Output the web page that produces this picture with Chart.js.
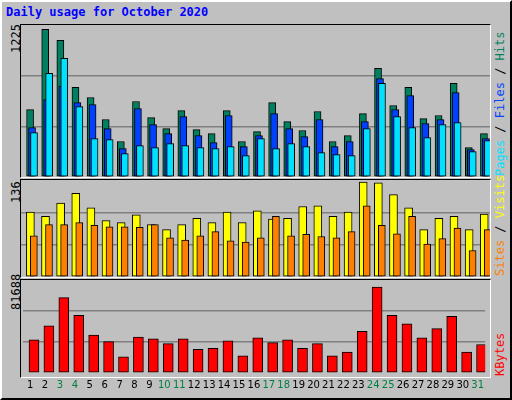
<!DOCTYPE html>
<html>
<head>
<meta charset="utf-8">
<script src="https://cdn.jsdelivr.net/npm/chart.js@4"></script>
<style>
  body { margin: 0; background: #fff; }
  #frame { position: absolute; left: 0; top: 0; width: 508px; height: 396px; background: #c0c0c0;
    border-top: 2px solid #fff; border-left: 2px solid #fff; border-right: 2px solid #000; border-bottom: 2px solid #000; }
  .title { position: absolute; left: 6px; top: 5px; font: bold 12px "DejaVu Sans Mono", monospace; color: #0000ff; }
  .panel { position: absolute; left: 20px; width: 469px; border: 1px solid #000; border-right-color: #fff; border-bottom-color: #fff; }
  .rot { position: absolute; transform: rotate(-90deg); transform-origin: left top; white-space: nowrap;
    font: 12px "DejaVu Sans Mono", monospace; }
  canvas { position: absolute; }
</style>
</head>
<body>
<div id="frame"></div>
<div class="title">Daily usage for October 2020</div>
<div class="panel" style="top:24px;height:152px"></div>
<div class="panel" style="top:179px;height:97px"></div>
<div class="panel" style="top:279px;height:97px"></div>
<div class="rot" style="left:9px;top:53px">1225</div>
<div class="rot" style="left:9px;top:203px">136</div>
<div class="rot" style="left:9px;top:310px">81688</div>
<div class="rot" style="left:493px;top:176px"><span style="color:#00e0ff">Pages</span> / <span style="color:#0040ff">Files</span> / <span style="color:#008060">Hits</span></div>
<div class="rot" style="left:493px;top:276px"><span style="color:#ff8000">Sites</span> / <span style="color:#ffff00">Visits</span></div>
<div class="rot" style="left:493px;top:376px"><span style="color:#ff0000">KBytes</span></div>
<canvas id="c1" style="left:21px;top:25px;width:469px;height:152px"></canvas>
<canvas id="c2" style="left:21px;top:180px;width:469px;height:97px"></canvas>
<canvas id="c3" style="left:21px;top:280px;width:469px;height:117px"></canvas>
<script>
const days = Array.from({ length: 31 }, (_, i) => i + 1);
const weekendDays = [3, 4, 10, 11, 17, 18, 24, 25, 31];
const hits = [557,1220,1129,740,657,475,293,624,491,400,549,392,359,549,293,375,615,458,384,541,293,342,524,897,591,740,483,508,773,243,359];
const files = [408,640,751,615,599,400,235,566,433,359,500,342,284,508,251,342,524,400,334,475,251,293,458,814,558,673,442,475,698,226,317];
const pages = [367,856,980,582,317,309,193,259,243,276,259,243,235,251,177,317,235,276,251,201,185,177,400,773,500,408,326,433,450,210,301];
const visits = [93,87,106,120,99,81,78,89,75,68,75,84,78,93,78,95,83,84,101,102,87,93,136,135,118,99,68,84,87,68,90];
const sites = [59,75,75,78,74,72,72,71,75,56,53,59,65,52,50,56,87,59,61,58,56,65,102,74,62,87,47,55,70,38,68];
const kbytes = [31600,45000,71800,54800,36000,29800,15500,34300,32500,28000,32500,22600,23500,30700,16400,33400,28900,31600,23500,28000,16400,20000,39600,81688,54800,46800,33400,42300,53900,20000,27100];

function ds(values, offset, color, width, order) {
  return {
    data: values.map((v, i) => ({ x: days[i] + offset, y: v })),
    backgroundColor: color, borderColor: "#000", borderWidth: 1,
    barThickness: width, grouped: false, borderSkipped: false, order: order,
  };
}

function makeChart(id, datasets, max, showDays) {
  const ctx = document.getElementById(id).getContext("2d");
  new Chart(ctx, {
    type: "bar",
    data: { datasets: datasets },
    options: {
      animation: false, responsive: false, maintainAspectRatio: false,
      layout: { padding: 0 },
      plugins: { legend: { display: false }, tooltip: { enabled: false } },
      scales: {
        x: {
          type: "linear", min: 0.5, max: 31.5, offset: false, display: showDays,
          grid: { display: false, drawTicks: false }, border: { display: false },
          afterBuildTicks: (axis) => { axis.ticks = days.map((d) => ({ value: d })); },
          ticks: {
            padding: 6, autoSkip: false, maxRotation: 0,
            font: { family: "DejaVu Sans", size: 10 },
            color: (c) => (weekendDays.includes(c.tick.value) ? "#008040" : "#000"),
          },
        },
        y: {
          min: 0, max: max, display: true,
          afterBuildTicks: (axis) => { axis.ticks = [0, max / 3, 2 * max / 3, max].map((v) => ({ value: v })); },
          ticks: { display: false }, border: { display: false },
          grid: { drawTicks: false, color: (c) => (c.index === 1 || c.index === 2 ? "#808080" : "rgba(0,0,0,0)"), lineWidth: 1.5 },
        },
      },
    },
  });
}

const c1 = document.getElementById("c1"); c1.width = 469; c1.height = 152;
const c2 = document.getElementById("c2"); c2.width = 469; c2.height = 97;
const c3 = document.getElementById("c3"); c3.width = 469; c3.height = 117;

makeChart("c1", [
  ds(hits, 0.1, "#008060", 7, 3),
  ds(files, 0.23, "#0040ff", 7, 2),
  ds(pages, 0.36, "#00e0ff", 7, 1),
], 1256, false);
makeChart("c2", [
  ds(visits, 0.12, "#ffff00", 8, 2),
  ds(sites, 0.35, "#ff8000", 7, 1),
], 139, false);
makeChart("c3", [ds(kbytes, 0.26, "#ff0000", 10, 1)], 88545, true);
</script>
</body>
</html>
